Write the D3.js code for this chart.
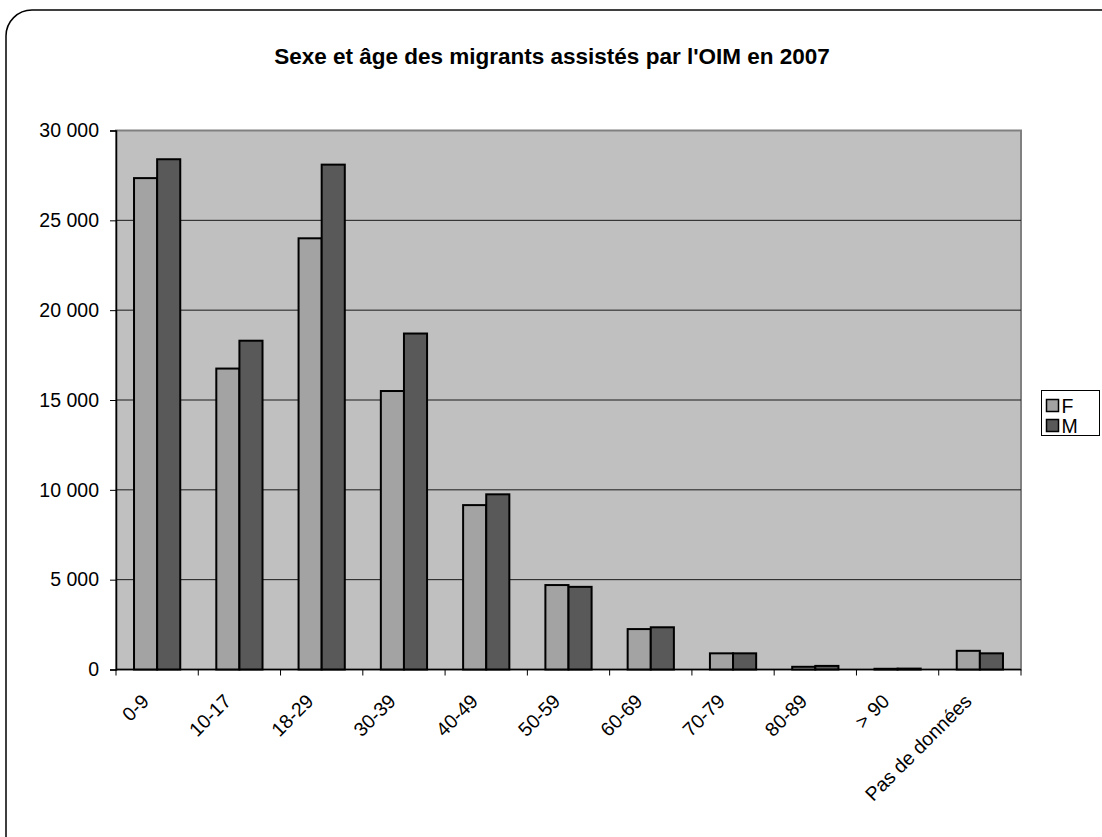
<!DOCTYPE html>
<html lang="fr">
<head>
<meta charset="UTF-8">
<title>Sexe et âge des migrants assistés par l'OIM en 2007</title>
<script src="https://cdn.jsdelivr.net/npm/d3@7"></script>
<style>
    body{ margin:0; background:#fff; }
    text{ font-family:"Liberation Sans", Arial, sans-serif; fill:#000; }
</style>
</head>
<body>
<div class="container"></div>
<script>
    // data
    const categories = ["0-9","10-17","18-29","30-39","40-49","50-59","60-69","70-79","80-89","> 90","Pas de données"];
    const seriesNames = ["F","M"];
    const valuesF = [27350,16750,24000,15500,9150,4700,2250,900,150,40,1040];
    const valuesM = [28400,18300,28100,18700,9750,4600,2350,900,200,50,900];
    const yTicks = [0,5000,10000,15000,20000,25000,30000];

    const width = 1102, height = 837;
    const plot = {left:116, right:1021, top:130.5, bottom:669.5};
    const colors = {F:"#a3a3a3", M:"#595959"};
    const labelSize = 19.5;

    const svg = d3.select(".container").append("svg")
        .attr("width",width).attr("height",height);

    // outer rounded frame
    svg.append("rect")
        .attr("x",6).attr("y",10).attr("width",1120).attr("height",860)
        .attr("rx",26).attr("ry",26)
        .attr("fill","none").attr("stroke","#000").attr("stroke-width",1.5);

    svg.append("text")
        .attr("x",552).attr("y",64).attr("text-anchor","middle")
        .attr("font-size",22.5).attr("font-weight","bold")
        .text("Sexe et âge des migrants assistés par l'OIM en 2007");

    const x = d3.scaleBand().domain(categories).range([plot.left,plot.right]);
    const inner = d3.scaleBand().domain(seriesNames).range([0,x.bandwidth()]).paddingOuter(0.78).paddingInner(0);
    const y = d3.scaleLinear().domain([0,30000]).range([plot.bottom,plot.top]);

    // plot background
    svg.append("rect")
        .attr("x",plot.left).attr("y",plot.top)
        .attr("width",plot.right-plot.left).attr("height",plot.bottom-plot.top)
        .attr("fill","#c0c0c0").attr("stroke","#808080").attr("stroke-width",2);

    // gridlines
    svg.append("g").selectAll("line")
        .data(yTicks.filter(d=>d>0 && d<30000))
        .join("line")
        .attr("x1",plot.left).attr("x2",plot.right)
        .attr("y1",d=>y(d)).attr("y2",d=>y(d))
        .attr("stroke","#1a1a1a").attr("stroke-width",1);

    // y axis
    const yAxis = svg.append("g").attr("transform",`translate(${plot.left},0)`)
        .call(d3.axisLeft(y).tickValues(yTicks).tickSize(6).tickPadding(11)
            .tickFormat(d=>d3.format(",")(d).replace(/,/g," ")));
    yAxis.attr("font-family",null).attr("font-size",labelSize);
    yAxis.select(".domain").attr("stroke","#000").attr("stroke-width",1.5);
    yAxis.selectAll(".tick line").attr("stroke","#000");
    yAxis.selectAll(".tick text").attr("fill","#000");

    // x axis
    const xAxis = svg.append("g").attr("transform",`translate(0,${plot.bottom})`);
    xAxis.append("line").attr("x1",plot.left).attr("x2",plot.right)
        .attr("stroke","#000").attr("stroke-width",1.5);
    xAxis.selectAll(".xt").data(d3.range(categories.length+1))
        .join("line").attr("class","xt")
        .attr("x1",i=>plot.left+i*x.step()).attr("x2",i=>plot.left+i*x.step())
        .attr("y1",0).attr("y2",6).attr("stroke","#000");
    xAxis.selectAll(".xl").data(categories)
        .join("text").attr("class","xl")
        .attr("font-size",labelSize)
        .attr("text-anchor","end")
        .attr("transform",d=>`translate(${x(d)+x.bandwidth()/2-7},${33}) rotate(-45)`)
        .text(d=>d);

    // bars
    const rows = categories.map((c,i)=>({cat:c, F:valuesF[i], M:valuesM[i]}));
    svg.append("g").selectAll("g").data(rows).join("g")
        .attr("transform",d=>`translate(${x(d.cat)},0)`)
        .selectAll("rect")
        .data(d=>seriesNames.map(k=>({key:k, value:d[k]})))
        .join("rect")
        .attr("x",d=>inner(d.key))
        .attr("y",d=>y(d.value))
        .attr("width",inner.bandwidth())
        .attr("height",d=>plot.bottom-y(d.value))
        .attr("fill",d=>colors[d.key])
        .attr("stroke","#000").attr("stroke-width",2);

    // legend
    const legend = svg.append("g").attr("transform","translate(1041.5,390.5)");
    legend.append("rect").attr("width",58).attr("height",45)
        .attr("fill","#fff").attr("stroke","#000").attr("stroke-width",1);
    legend.selectAll("g").data(seriesNames).join("g")
        .attr("transform",(d,i)=>`translate(5,${9+i*20})`)
        .each(function(d){
            const g = d3.select(this);
            g.append("rect").attr("width",12).attr("height",12)
                .attr("fill",colors[d]).attr("stroke","#000").attr("stroke-width",1.5);
            g.append("text").attr("font-size",labelSize).attr("x",15).attr("y",13).text(d);
        });
</script>
</body>
</html>
